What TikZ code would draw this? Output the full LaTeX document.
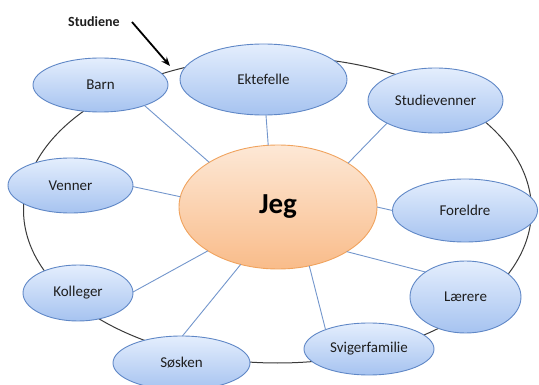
\documentclass[tikz,border=0pt]{standalone}
\usepackage{fontspec}
\setmainfont{Carlito}
\usetikzlibrary{shapes.geometric,arrows.meta}
\definecolor{satTop}{HTML}{E4EEFD}
\definecolor{satBot}{HTML}{A6C3F0}
\definecolor{satLine}{HTML}{5F87C6}
\definecolor{jegTop}{HTML}{FDE8D6}
\definecolor{jegBot}{HTML}{F9BC8A}
\definecolor{jegLine}{HTML}{F0A35E}
\definecolor{linkCol}{HTML}{7396CC}
\definecolor{ringCol}{HTML}{3A3A3A}
\definecolor{txtCol}{HTML}{1E1E1E}
\tikzset{
  sat/.style={ellipse, draw=satLine, line width=0.9pt, top color=satTop, bottom color=satBot,
    inner sep=0pt, outer sep=0pt, text=txtCol, font=\fontsize{15}{17}\selectfont},
  jegbox/.style={ellipse, draw=jegLine, line width=0.9pt, top color=jegTop, bottom color=jegBot,
    inner sep=0pt, outer sep=0pt, font=\bfseries\fontsize{29}{32}\selectfont},
  ringbox/.style={ellipse, draw=ringCol, line width=1pt, inner sep=0pt, outer sep=0pt},
  link/.style={draw=linkCol, line width=0.9pt},
}
\begin{document}
\begin{tikzpicture}[x=1pt,y=-1pt]
\useasboundingbox (0,0) rectangle (539,385);
% outer ring
\node[ringbox, minimum width=508pt, minimum height=306pt] (ring) at (277.5,210) {};
% satellites
\node[sat, minimum width=135pt, minimum height=54pt] (barn) at (100.5,85) {Barn};
\node[sat, minimum width=167pt, minimum height=71pt] (ekte) at (263.5,79.5) {Ektefelle};
\node[sat, minimum width=135pt, minimum height=65pt] (stud) at (435.5,100.5) {Studievenner};
\node[sat, minimum width=125pt, minimum height=55pt] (venn) at (70.5,185.5) {Venner};
\node[sat, minimum width=145pt, minimum height=63pt] (fore) at (465,210.5) {Foreldre};
\node[sat, minimum width=110pt, minimum height=56pt] (koll) at (78,293) {Kolleger};
\node[sat, minimum width=111pt, minimum height=72pt] (laer) at (465.5,297) {Lærere};
\node[sat, minimum width=137pt, minimum height=54pt] (sosk) at (181.5,363) {Søsken};
\node[sat, minimum width=130pt, minimum height=52pt] (svig) at (369,349) {Svigerfamilie};
% centre
\node[jegbox, minimum width=198pt, minimum height=124pt] (jeg) at (278,207) {Jeg};
% connectors
\draw[link] (jeg.147.8) -- (barn.335);
\draw[link] (jeg.99.2) -- (ekte.274);
\draw[link] (jeg.32.2) -- (stud.205.8);
\draw[link] (jeg.174.1) -- (venn.359);
\draw[link] (jeg.0.6) -- (fore.180);
\draw[link] (jeg.327.3) -- (laer.148.5);
\draw[link] (jeg.298.5) -- (svig.156.5);
\draw[link] (jeg.237.2) -- (sosk.88);
\draw[link] (jeg.212.7) -- (koll.1);
% Studiene label and arrow
\node[inner sep=0pt, font=\bfseries\fontsize{14}{16}\selectfont, text=txtCol] (studiene) at (94,22) {Studiene};
\coordinate (arrS) at (132,22);
\coordinate (arrT) at (170,66);
\draw[line width=1.8pt, -{Stealth[length=9pt,width=7pt]}] (arrS) -- (arrT);
\end{tikzpicture}
\end{document}
